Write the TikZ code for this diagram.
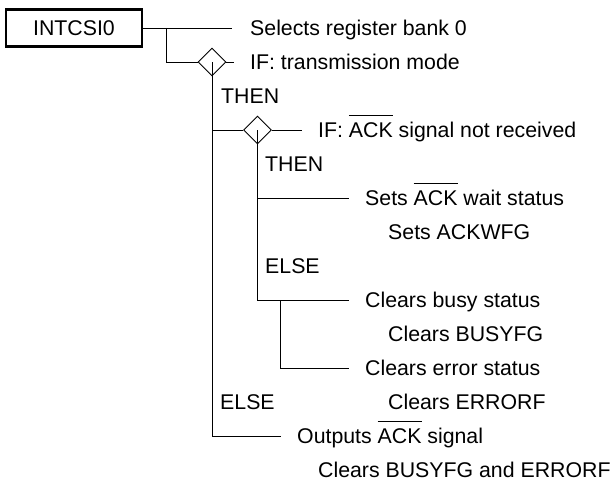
\documentclass[tikz,border=0pt]{standalone}
\usepackage{fontspec}
\setmainfont{Liberation Sans}
\usetikzlibrary{shapes.geometric}
\newcommand\myovl[1]{\setbox0=\hbox{#1}\rlap{\raisebox{\dimexpr\ht0+6.5pt\relax}{\rule{\wd0}{1pt}}}\box0\relax}
\begin{document}
\begin{tikzpicture}[x=1pt,y=-1pt,
  lbl/.style={anchor=west,inner sep=0pt,text height=15.2pt,text depth=0pt,font=\fontsize{21.3}{25}\selectfont},
  cond/.style={draw,diamond,aspect=1,inner sep=0pt,minimum width=28pt,minimum height=28pt,line width=0.9pt},
  ln/.style={line width=0.9pt},
  gap/.style={xshift=-16pt}]
\useasboundingbox (0,0) rectangle (615,487);
\node[draw,line width=2.4pt,minimum width=136pt,minimum height=37pt,inner sep=0pt,font=\fontsize{21.3}{25}\selectfont] (box) at (74,28) {INTCSI0};
\node[lbl] (t1) at (250,28) {Selects register bank 0};
\node[lbl] (t2) at (250,62) {IF: transmission mode};
\node[lbl] (then1) at (221,96) {THEN};
\node[lbl] (t3) at (318,130) {IF: \myovl{ACK} signal not received};
\node[lbl] (then2) at (265,164) {THEN};
\node[lbl] (t4) at (365,198) {Sets \myovl{ACK} wait status};
\node[lbl] (t4b) at (388,232) {Sets ACKWFG};
\node[lbl] (else2) at (265,266) {ELSE};
\node[lbl] (t5) at (365,300) {Clears busy status};
\node[lbl] (t5b) at (388,334) {Clears BUSYFG};
\node[lbl] (t6) at (365,368) {Clears error status};
\node[lbl] (t6b) at (388,402) {Clears ERRORF};
\node[lbl] (else1) at (220,402) {ELSE};
\node[lbl] (t7) at (297,436) {Outputs \myovl{ACK} signal};
\node[lbl] (t7b) at (318,470) {Clears BUSYFG and ERRORF};
\node[cond] (d1) at (212,62) {};
\node[cond] (d2) at (257.5,130) {};
\coordinate (j1) at (166,28);
\coordinate (j1b) at (166,62);
\coordinate (v1b) at (212,436);
\coordinate (j2) at (212,130);
\coordinate (v2b) at (257.5,300);
\coordinate (j3) at (257.5,198);
\coordinate (j4) at (280,300);
\coordinate (j4b) at (280,368);
\draw[ln] (box.east) -- ([xshift=-18pt]t1.west);
\draw[ln] (j1) -- (j1b) -- (d1.west);
\draw[ln] (d1.east) -- ([gap]t2.west);
\draw[ln] (d1.center) -- (v1b) -- ([gap]t7.west);
\draw[ln] (j2) -- (d2.west);
\draw[ln] (d2.east) -- ([gap]t3.west);
\draw[ln] (d2.center) -- (v2b) -- ([gap]t5.west);
\draw[ln] (j3) -- ([gap]t4.west);
\draw[ln] (j4) -- (j4b) -- ([gap]t6.west);
\end{tikzpicture}
\end{document}
